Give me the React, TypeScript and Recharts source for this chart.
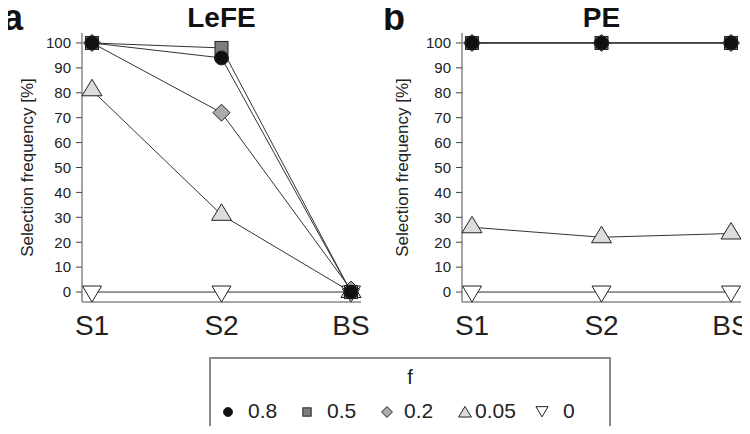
import { LineChart, Line, XAxis, YAxis } from "recharts";

const stages = ["S1", "S2", "BS"];
const yTicks = [0, 10, 20, 30, 40, 50, 60, 70, 80, 90, 100];

// LeFE panel (a)
const lefe08 = [100, 94, 0];
const lefe05 = [100, 98, 0];
const lefe02 = [100, 72, 1];
const lefe005 = [81, 31, 0];
const lefe0 = [0, 0, 0];

// PE panel (b)
const pe08 = [100, 100, 100];
const pe05 = [100, 100, 100];
const pe02 = [100, 100, 100];
const pe005 = [26, 22, 23.5];
const pe0 = [0, 0, 0];

const FONT = "'Liberation Sans', Arial, sans-serif";
const INK = "#222";

type Shape = "circle" | "square" | "diamond" | "up" | "down";

// drawn bottom to top, so 0.8 ends up on top
const series: { key: string; label: string; shape: Shape; fill: string }[] = [
  { key: "f0", label: "0", shape: "down", fill: "#ffffff" },
  { key: "f005", label: "0.05", shape: "up", fill: "#dcdcdc" },
  { key: "f02", label: "0.2", shape: "diamond", fill: "#ababab" },
  { key: "f05", label: "0.5", shape: "square", fill: "#7d7d7d" },
  { key: "f08", label: "0.8", shape: "circle", fill: "#111111" },
];

const toRows = (cols: Record<string, number[]>) =>
  stages.map((stage, i) => {
    const row: Record<string, string | number> = { stage };
    Object.keys(cols).forEach((k) => (row[k] = cols[k][i]));
    return row;
  });

const lefeData = toRows({ f08: lefe08, f05: lefe05, f02: lefe02, f005: lefe005, f0: lefe0 });
const peData = toRows({ f08: pe08, f05: pe05, f02: pe02, f005: pe005, f0: pe0 });

function Marker({ cx, cy, shape, fill, s = 1 }: { cx: number; cy: number; shape: Shape; fill: string; s?: number }) {
  const common = { fill, stroke: INK, strokeWidth: 1 };
  if (shape === "circle") return <circle cx={cx} cy={cy} r={7 * s} {...common} />;
  if (shape === "square") {
    const h = 6.5 * s;
    return <rect x={cx - h} y={cy - h} width={2 * h} height={2 * h} {...common} />;
  }
  if (shape === "diamond") {
    const h = 8.5 * s;
    return <polygon points={`${cx},${cy - h} ${cx + h},${cy} ${cx},${cy + h} ${cx - h},${cy}`} {...common} />;
  }
  if (shape === "up") {
    const w = 10 * s;
    return <polygon points={`${cx},${cy - 11 * s} ${cx + w},${cy + 5.5 * s} ${cx - w},${cy + 5.5 * s}`} {...common} />;
  }
  const w = 9.5 * s;
  return <polygon points={`${cx - w},${cy - 6 * s} ${cx + w},${cy - 6 * s} ${cx},${cy + 10 * s}`} {...common} />;
}

function Panel({
  data,
  letter,
  title,
  left,
  width,
  marginRight,
  labelDx,
}: {
  data: Record<string, string | number>[];
  letter: string;
  title: string;
  left: number;
  width: number;
  marginRight: number;
  labelDx: number;
}) {
  const plotLeft = 82;
  const plotCenter = plotLeft + (width - marginRight - plotLeft) / 2;
  return (
    <div style={{ position: "absolute", left, top: 0, width, height: 350 }}>
      <LineChart width={width} height={350} data={data} margin={{ top: 33, right: marginRight, bottom: 0, left: 0 }}>
        <XAxis
          dataKey="stage"
          scale="point"
          padding={{ left: 10, right: 10 }}
          height={48}
          tickLine={false}
          tickMargin={7}
          axisLine={{ stroke: "#888", strokeWidth: 1.5 }}
          tick={{ fontSize: 28, fill: "#222", fontFamily: FONT }}
        />
        <XAxis xAxisId="top" dataKey="stage" orientation="top" height={0} tick={false} tickLine={false} axisLine={{ stroke: "#888", strokeWidth: 1.5 }} />
        <YAxis
          type="number"
          domain={[-4, 104]}
          ticks={yTicks}
          interval={0}
          width={plotLeft}
          tickSize={6}
          tickMargin={5}
          tickLine={{ stroke: "#444" }}
          axisLine={{ stroke: "#888", strokeWidth: 1.5 }}
          tick={{ fontSize: 15, fill: "#222", fontFamily: FONT }}
          label={{
            value: "Selection frequency [%]",
            angle: -90,
            position: "center",
            dx: labelDx,
            style: { fontSize: 17, fill: "#222", fontFamily: FONT },
          }}
        />
        <YAxis yAxisId="right" orientation="right" width={0} domain={[-4, 104]} tick={false} tickLine={false} axisLine={{ stroke: "#888", strokeWidth: 1.5 }} />
        {series.map((s) => (
          <Line
            key={s.key}
            dataKey={s.key}
            stroke="#333"
            strokeWidth={1}
            isAnimationActive={false}
            activeDot={false}
            dot={(p: any) => <Marker key={`${s.key}-${p.index}`} cx={p.cx} cy={p.cy} shape={s.shape} fill={s.fill} />}
          />
        ))}
      </LineChart>
      <div
        style={{
          position: "absolute",
          left: 3,
          top: 0,
          fontSize: 36,
          lineHeight: "36px",
          fontWeight: "bold",
          color: "#111",
          zIndex: 2,
        }}
      >
        {letter}
      </div>
      <div
        style={{
          position: "absolute",
          left: plotCenter - 100,
          width: 200,
          top: 3.5,
          textAlign: "center",
          fontSize: 28,
          lineHeight: 1,
          fontWeight: "bold",
          color: "#111",
          zIndex: 2,
        }}
      >
        {title}
      </div>
    </div>
  );
}

function LegendBox() {
  const items = [...series].reverse();
  // horizontal placement of each key inside the box (icon centre, text left)
  const iconX = [19, 98, 178, 256, 333];
  const textX = [39, 118, 195, 266, 354];
  return (
    <div
      style={{
        position: "absolute",
        left: 209,
        top: 357,
        width: 402,
        height: 77,
        boxSizing: "border-box",
        border: "2px solid #8a8a8a",
        fontFamily: FONT,
        color: "#222",
      }}
    >
      <div style={{ textAlign: "center", fontSize: 20, marginTop: 7, lineHeight: "22px" }}>f</div>
      {items.map((s, i) => (
        <div key={s.key}>
          <svg width={16} height={16} style={{ position: "absolute", left: iconX[i] - 8 - 2, top: 45 }}>
            <Marker cx={8} cy={s.shape === "up" ? 9.5 : s.shape === "down" ? 6.5 : 8} shape={s.shape} fill={s.fill} s={0.64} />
          </svg>
          <span style={{ position: "absolute", left: textX[i] - 2, top: 40, fontSize: 21, lineHeight: "24px" }}>{s.label}</span>
        </div>
      ))}
    </div>
  );
}

export default function App() {
  return (
    <div style={{ position: "relative", width: 750, height: 434, margin: -8, background: "#fff", fontFamily: FONT, overflow: "hidden" }}>
      <Panel data={lefeData} letter="a" title="LeFE" left={0} width={375} marginRight={14} labelDx={-14} />
      <Panel data={peData} letter="b" title="PE" left={380} width={370} marginRight={9} labelDx={-19} />
      <LegendBox />
    </div>
  );
}
